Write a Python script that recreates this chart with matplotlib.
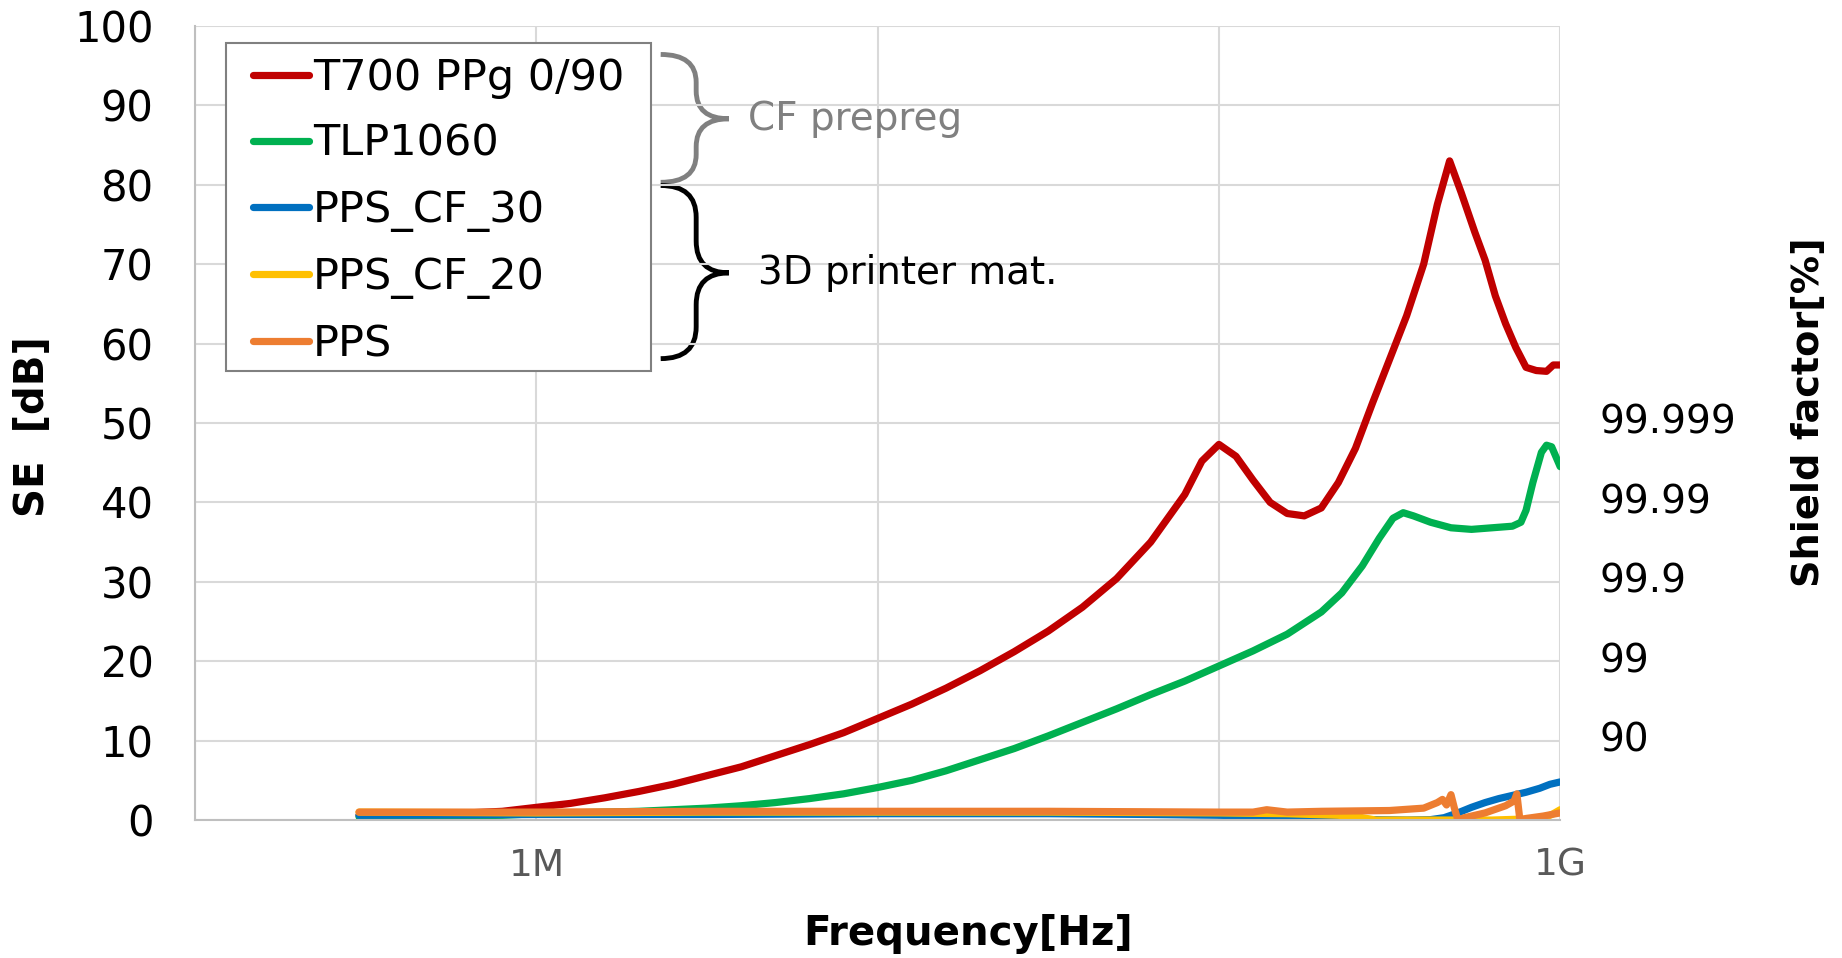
import numpy as np
import matplotlib
matplotlib.use('Agg')
import matplotlib.pyplot as plt
from matplotlib.path import Path
from matplotlib.patches import PathPatch, Rectangle

# frequencies as log10(Hz), SE in dB
red_logf = [5.48, 5.6, 5.75, 5.9, 6.0, 6.1, 6.2, 6.3, 6.4, 6.5, 6.6, 6.7, 6.8, 6.9, 7.0,
            7.1, 7.2, 7.3, 7.4, 7.5, 7.6, 7.7, 7.8, 7.9, 7.95, 8.0, 8.05, 8.1, 8.15, 8.2,
            8.25, 8.3, 8.35, 8.4, 8.45, 8.5, 8.55, 8.6, 8.64, 8.676, 8.71, 8.75, 8.78,
            8.81, 8.84, 8.87, 8.9, 8.93, 8.96, 8.98, 9.0]
red_se = [0.6, 0.7, 0.8, 1.1, 1.6, 2.1, 2.8, 3.6, 4.5, 5.6, 6.7, 8.1, 9.5, 11.0, 12.8,
          14.6, 16.6, 18.8, 21.2, 23.8, 26.8, 30.4, 35.0, 41.0, 45.2, 47.3, 45.8, 42.8, 40.0, 38.6,
          38.3, 39.3, 42.5, 46.8, 52.5, 58.0, 63.5, 70.0, 77.5, 83.0, 79.0, 74.0, 70.5,
          66.0, 62.5, 59.5, 57.0, 56.6, 56.5, 57.3, 57.3]

green_logf = [5.48, 5.6, 5.75, 5.9, 6.0, 6.1, 6.2, 6.3, 6.4, 6.5, 6.6, 6.7, 6.8, 6.9, 7.0,
              7.1, 7.2, 7.3, 7.4, 7.5, 7.6, 7.7, 7.8, 7.9, 8.0, 8.1, 8.2, 8.3, 8.36, 8.42,
              8.47, 8.51, 8.54, 8.57, 8.62, 8.68, 8.74, 8.8, 8.86, 8.885, 8.9, 8.92, 8.945,
              8.96, 8.975, 8.99, 9.0]
green_se = [0.4, 0.5, 0.5, 0.6, 0.8, 0.9, 1.0, 1.1, 1.3, 1.5, 1.8, 2.2, 2.7, 3.3, 4.1,
            5.0, 6.2, 7.6, 9.0, 10.6, 12.3, 14.0, 15.8, 17.5, 19.4, 21.3, 23.4, 26.2, 28.6, 32.0,
            35.5, 38.0, 38.7, 38.3, 37.5, 36.8, 36.6, 36.8, 37.0, 37.5, 39.0, 42.5, 46.3,
            47.2, 47.0, 45.5, 44.5]

blue_logf = [5.48, 6.0, 6.5, 7.0, 7.5, 7.8, 8.0, 8.2, 8.35, 8.45, 8.55, 8.62, 8.66, 8.7,
             8.74, 8.78, 8.82, 8.86, 8.9, 8.94, 8.97, 9.0]
blue_se = [0.6, 0.7, 0.7, 0.8, 0.8, 0.7, 0.6, 0.4, 0.2, 0.05, 0.0, 0.05, 0.3, 0.9,
           1.6, 2.2, 2.7, 3.1, 3.5, 4.0, 4.5, 4.8]

yellow_logf = [5.48, 6.0, 6.5, 7.0, 7.5, 8.0, 8.2, 8.35, 8.42, 8.46, 8.6, 8.8, 8.95, 8.98, 9.0]
yellow_se = [1.0, 0.9, 1.0, 1.0, 1.0, 0.9, 0.8, 0.6, 0.3, 0.0, 0.0, 0.0, 0.2, 0.8, 1.3]

orange_logf = [5.48, 6.0, 6.5, 7.0, 7.5, 8.0, 8.1, 8.14, 8.2, 8.3, 8.5, 8.6, 8.64, 8.655,
               8.667, 8.68, 8.69, 8.70, 8.72, 8.78, 8.84, 8.865, 8.873, 8.882, 8.9, 8.95, 9.0]
orange_se = [1.0, 1.0, 1.1, 1.1, 1.1, 1.0, 1.0, 1.3, 1.0, 1.1, 1.2, 1.5, 2.2, 2.6,
             1.9, 3.2, 1.5, 0.0, 0.3, 0.9, 1.8, 2.4, 3.3, 0.0, 0.2, 0.5, 0.9]

labels = ['T700 PPg 0/90', 'TLP1060', 'PPS_CF_30', 'PPS_CF_20', 'PPS']
colors = ['#C00000', '#00B050', '#0070C0', '#FFC000', '#ED7D31']

shield_ticks = [10, 20, 30, 40, 50]
shield_labels = ['90', '99', '99.9', '99.99', '99.999']

plt.rcParams['font.family'] = ['DejaVu Sans']

fig = plt.figure(figsize=(18.42, 9.58), dpi=100)
ax = fig.add_axes([0.106, 0.144, 0.741, 0.829])

series = [(red_logf, red_se), (green_logf, green_se), (blue_logf, blue_se),
          (yellow_logf, yellow_se), (orange_logf, orange_se)]
for (lf, se), lab, c in zip(series, labels, colors):
    ax.plot(10 ** np.array(lf), se, color=c, lw=5.2, label=lab,
            solid_capstyle='round', solid_joinstyle='round')

ax.set_xscale('log')
ax.set_xlim(1e5, 1e9)
ax.set_ylim(0, 100)
ax.set_xticks([1e5, 1e6, 1e7, 1e8, 1e9])
ax.set_xticklabels(['', '1M', '', '', '1G'])
ax.minorticks_off()
ax.set_yticks(range(0, 101, 10))
ax.tick_params(axis='y', length=0, labelsize=30, pad=30, labelcolor='black')
ax.tick_params(axis='x', length=0, labelsize=27, pad=20, labelcolor='#595959')
ax.grid(True, color='#D9D9D9', lw=1.5)
for s in ['top', 'right']:
    ax.spines[s].set_visible(False)
for s in ['left', 'bottom']:
    ax.spines[s].set_color('#BFBFBF')
    ax.spines[s].set_linewidth(1.5)

# legend box drawn separately so the side padding can be wider than the top/bottom
ax.add_patch(Rectangle((0.0224, 0.565), 0.3116, 0.413, transform=ax.transAxes,
                       fill=True, fc='white', ec='#808080', lw=1.5, zorder=4))
leg = ax.legend(loc='upper left', bbox_to_anchor=(0.042, 0.961), fontsize=31,
                handlelength=1.3, handletextpad=0.1, labelspacing=0.56,
                borderpad=0, frameon=False, borderaxespad=0)
leg.set_zorder(5)


def brace(x0, xm, xt, top, mid, bot, r, color):
    verts = [(x0, top), (xm, top), (xm, top - r), (xm, mid + r), (xm, mid), (xt, mid),
             (xm, mid), (xm, mid - r), (xm, bot + r), (xm, bot), (x0, bot)]
    codes = [Path.MOVETO, Path.CURVE3, Path.CURVE3, Path.LINETO, Path.CURVE3, Path.CURVE3,
             Path.CURVE3, Path.CURVE3, Path.LINETO, Path.CURVE3, Path.CURVE3]
    ax.add_patch(PathPatch(Path(verts, codes), fill=False, ec=color, lw=3.5,
                           transform=ax.transAxes, clip_on=False))


brace(0.341, 0.367, 0.391, 0.964, 0.883, 0.803, 0.035, '#808080')
brace(0.341, 0.367, 0.391, 0.799, 0.689, 0.581, 0.04, 'black')
ax.text(0.405, 0.883, 'CF prepreg', transform=ax.transAxes, fontsize=28,
        color='#808080', va='center', ha='left')
ax.text(0.412, 0.689, '3D printer mat.', transform=ax.transAxes, fontsize=28,
        color='black', va='center', ha='left')

# right-hand shield factor labels
for t, s in zip(shield_ticks, shield_labels):
    ax.text(1.029, t, s, transform=ax.get_yaxis_transform(), fontsize=28,
            va='center', ha='left')

fig.text(0.018, 0.555, 'SE  [dB]', rotation=90, fontsize=29, fontweight='bold',
         va='center', ha='center')
fig.text(0.982, 0.57, 'Shield factor[%]', rotation=90, fontsize=27.5, fontweight='bold',
         va='center', ha='center')
fig.text(0.5255, 0.025, 'Frequency[Hz]', fontsize=29, fontweight='bold',
         va='center', ha='center')

fig.savefig('out.png', dpi=100)
